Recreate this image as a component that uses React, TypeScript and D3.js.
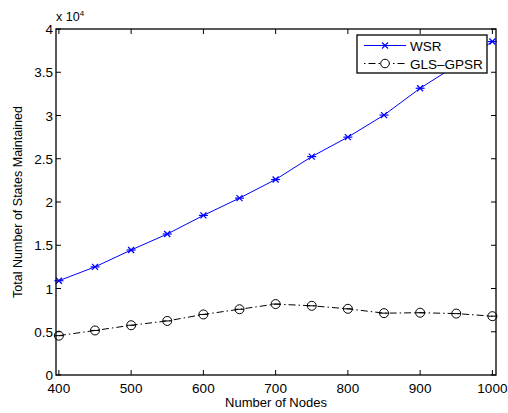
import React from "react";
import * as d3 from "d3";

const nodes = [400, 450, 500, 550, 600, 650, 700, 750, 800, 850, 900, 950, 1000];
const wsr = [10900, 12500, 14450, 16300, 18450, 20450, 22600, 25250, 27500, 30050, 33150, 35800, 38550];
const glsGpsr = [4550, 5150, 5750, 6250, 7000, 7600, 8200, 8000, 7650, 7150, 7200, 7100, 6800];
const xTicks = [400, 500, 600, 700, 800, 900, 1000];
const yTicks = [0, 5000, 10000, 15000, 20000, 25000, 30000, 35000, 40000];
const seriesNames = ["WSR", "GLS\u2013GPSR"];

export default function App() {
  const W = 508, H = 413;
  const L = 56, R = 496, T = 29, B = 375;
  const x = d3.scaleLinear().domain([396, 1005]).range([L, R]);
  const y = d3.scaleLinear().domain([0, 40000]).range([B, T]);
  const line = d3.line<number>().x((_, i) => x(nodes[i])).y((d) => y(d));
  const font = "'Liberation Sans', Arial, Helvetica, sans-serif";
  const tl = 5;
  const fs = 13.5;
  const fmtY = (v: number) => {
    const s = v / 10000;
    return s === 0 ? "0" : String(s);
  };
  return (
    <svg width={W} height={H} style={{ position: "absolute", left: 0, top: 0 }} fontFamily={font}>
      <rect x={0} y={0} width={W} height={H} fill="white" />
      {/* ticks */}
      {xTicks.map((t) => (
        <g key={"x" + t}>
          <line x1={x(t)} x2={x(t)} y1={B} y2={B - tl} stroke="black" strokeWidth={1} />
          <line x1={x(t)} x2={x(t)} y1={T} y2={T + tl} stroke="black" strokeWidth={1} />
          <text x={x(t)} y={B + 18} fontSize={fs} textAnchor="middle">{t}</text>
        </g>
      ))}
      {yTicks.map((t) => (
        <g key={"y" + t}>
          <line x1={L} x2={L + tl} y1={y(t)} y2={y(t)} stroke="black" strokeWidth={1} />
          <line x1={R} x2={R - tl} y1={y(t)} y2={y(t)} stroke="black" strokeWidth={1} />
          <text x={L - 3} y={y(t) + 5} fontSize={fs} textAnchor="end">{fmtY(t)}</text>
        </g>
      ))}
      <text x={L} y={21} fontSize={12.5}>x 10<tspan dy={-5} fontSize={8}>4</tspan></text>
      {/* lines */}
      <path d={line(wsr) || ""} fill="none" stroke="#0000ff" strokeWidth={1} />
      <path d={line(glsGpsr) || ""} fill="none" stroke="black" strokeWidth={1} strokeDasharray="7,3,1.5,3" />
      {wsr.map((v, i) => {
        const cx = x(nodes[i]), cy = y(v);
        return (
          <g key={"w" + i} stroke="#0000ff" strokeWidth={1.2}>
            <line x1={cx - 3} x2={cx + 3} y1={cy - 3} y2={cy + 3} />
            <line x1={cx - 3} x2={cx + 3} y1={cy + 3} y2={cy - 3} />
            <line x1={cx - 4.5} x2={cx + 4.5} y1={cy} y2={cy} />
          </g>
        );
      })}
      {glsGpsr.map((v, i) => {
        const cx = x(nodes[i]), cy = y(v);
        return (
          <g key={"g" + i} stroke="black" strokeWidth={1} fill="none">
            <circle cx={cx} cy={cy} r={4.5} />
            <line x1={cx - 4.5} x2={cx + 4.5} y1={cy} y2={cy} />
          </g>
        );
      })}
      {/* frame */}
      <rect x={L} y={T} width={R - L} height={B - T} fill="none" stroke="black" strokeWidth={1.3} />
      {/* legend */}
      <rect x={357} y={35} width={130} height={38} fill="white" stroke="black" strokeWidth={1.3} />
      <line x1={364} x2={406} y1={45.5} y2={45.5} stroke="#0000ff" strokeWidth={1} />
      <g stroke="#0000ff" strokeWidth={1.1}>
        <line x1={382} x2={388} y1={42.5} y2={48.5} />
        <line x1={382} x2={388} y1={48.5} y2={42.5} />
      </g>
      <line x1={364} x2={406} y1={63.5} y2={63.5} stroke="black" strokeWidth={1} strokeDasharray="1.5,3,7,3" />
      <circle cx={385} cy={63.5} r={4.3} fill="white" stroke="black" strokeWidth={1} />
      <text x={410} y={50.5} fontSize={fs}>{seriesNames[0]}</text>
      <text x={410} y={68.5} fontSize={fs}>{seriesNames[1]}</text>
      {/* axis labels */}
      <text x={(L + R) / 2} y={407} fontSize={13} textAnchor="middle">Number of Nodes</text>
      <text transform={`translate(22,${(T + B) / 2}) rotate(-90)`} fontSize={12.5} textAnchor="middle">Total Number of States Maintained</text>
    </svg>
  );
}
